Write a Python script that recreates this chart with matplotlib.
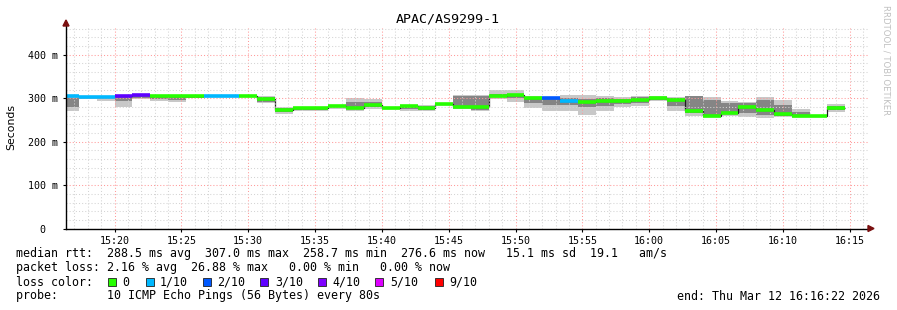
import matplotlib
matplotlib.use("Agg")
import matplotlib.pyplot as plt
import matplotlib.dates as mdates
from matplotlib.patches import Rectangle, Polygon
import numpy as np
import pandas as pd

# ---------------- data ----------------
title = "APAC/AS9299-1"
bin_start = "2026-03-12 15:16:00"
step_seconds = 80
view_start = "2026-03-12 15:16:22"
view_end = "2026-03-12 16:16:22"

median_ms = [304.4, 302.8, 302.8, 305.7, 306.5, 305.0, 305.0, 306.0, 306.0, 306.0,
             306.0, 299.0, 273.0, 278.0, 278.0, 283.0, 278.6, 285.5, 278.6, 282.0,
             277.5, 286.7, 279.8, 279.3, 305.0, 307.0, 300.5, 301.0, 294.7, 290.8,
             294.7, 294.7, 297.0, 299.8, 297.0, 270.6, 260.0, 266.0, 279.8, 274.0,
             263.7, 260.0, 258.7, 276.6]
loss_tenths = [1, 1, 1, 3, 3, 0, 0, 0, 1, 1,
               0, 0, 0, 0, 0, 0, 0, 0, 0, 0,
               0, 0, 0, 0, 0, 0, 0, 2, 1, 0,
               0, 0, 0, 0, 0, 0, 0, 0, 0, 0,
               0, 0, 0, 0]
smoke_lo = [271, 299, 294, 280, 298, 293, 291, 300, 304, 305,
            303, 288, 264, 271, 271, 276, 271, 275, 276, 271,
            270, 284, 275, 271, 299, 292, 277, 271, 271, 262,
            271, 280, 283, 294, 271, 260, 257, 260, 257, 254,
            256, 256, 256, 268]
smoke_hi = [303, 302, 302, 303, 305, 305, 303, 303, 306, 306,
            306, 306, 280, 278, 278, 283, 300, 298, 280, 282,
            284, 288, 307, 307, 319, 319, 305, 303, 307, 307,
            306, 303, 306, 305, 303, 306, 303, 294, 291, 302,
            296, 275, 260, 287]
core_lo = [280, 300, 300, 294, 300, 298, 297, 301, 305, 305,
           304, 292, 268, 274, 274, 279, 280, 280, 277, 276,
           274, 285, 277, 274, 302, 300, 290, 285, 285, 280,
           282, 287, 290, 296, 283, 265, 262, 264, 265, 262,
           260, 258, 257, 272]
core_hi = [300, 302, 302, 303, 304, 304, 302, 303, 306, 306,
           306, 302, 277, 278, 278, 283, 291, 292, 279, 281,
           281, 287, 306, 306, 310, 310, 302, 300, 300, 298,
           300, 299, 302, 303, 300, 304, 295, 290, 288, 295,
           285, 268, 259, 283]

loss_levels = [0, 1, 2, 3, 4, 5, 9]
loss_labels = ["0", "1/10", "2/10", "3/10", "4/10", "5/10", "9/10"]
loss_colors = ["#26ff00", "#00b8ff", "#0059ff", "#5e00ff", "#7e00ff", "#dd00ff", "#ff0000"]

y_ticks = [0, 100, 200, 300, 400]
y_ticklabels = ["0  ", "100 m", "200 m", "300 m", "400 m"]

stats_lines = [
    "median rtt:  288.5 ms avg  307.0 ms max  258.7 ms min  276.6 ms now   15.1 ms sd  19.1   am/s",
    "packet loss: 2.16 % avg  26.88 % max   0.00 % min   0.00 % now",
    "loss color:",
    "probe:       10 ICMP Echo Pings (56 Bytes) every 80s",
]
end_text = "end: Thu Mar 12 16:16:22 2026"
# --------------------------------------

W, H = 897, 310
mono = "DejaVu Sans Mono"

fig = plt.figure(figsize=(W / 100, H / 100), dpi=100)
fig.patch.set_facecolor("white")

x0, x1 = 66, 868
y0, y1 = 228.7, 26
ax = fig.add_axes([x0 / W, 1 - y0 / H, (x1 - x0) / W, (y0 - y1) / H])
ax.set_facecolor("white")

edges = mdates.date2num(pd.date_range(bin_start, periods=len(median_ms) + 1,
                                      freq=f"{step_seconds}s"))

ax.stairs(smoke_hi, edges, baseline=smoke_lo, fill=True, color="#c8c8c8",
          linewidth=0, zorder=1)
ax.stairs(core_hi, edges, baseline=core_lo, fill=True, color="#858585",
          linewidth=0, zorder=1.5)

# thin dark median step line
ax.stairs(median_ms, edges, baseline=None, color="#202020", linewidth=0.9, zorder=2)

cmap = dict(zip(loss_levels, loss_colors))
seg_colors = [cmap[l] for l in loss_tenths]
ax.hlines(median_ms, edges[:-1], edges[1:], colors=seg_colors, linewidth=2.6,
          zorder=3)

ax.set_xlim(mdates.date2num(pd.Timestamp(view_start)),
            mdates.date2num(pd.Timestamp(view_end)))
ax.set_ylim(0, (y0 - y1) / 0.435)

ax.xaxis.set_major_locator(mdates.MinuteLocator(byminute=range(0, 60, 5)))
ax.xaxis.set_minor_locator(mdates.MinuteLocator())
ax.xaxis.set_major_formatter(mdates.DateFormatter("%H:%M"))
ax.set_yticks(y_ticks)
ax.set_yticklabels(y_ticklabels)
ax.set_yticks(np.arange(0, 470, 20), minor=True)

for lab in ax.get_xticklabels() + ax.get_yticklabels():
    lab.set_fontfamily(mono)
    lab.set_fontsize(7.2)
ax.tick_params(axis="both", which="major", length=2, width=0.8, color="black")
ax.tick_params(axis="both", which="minor", length=0)
ax.tick_params(axis="x", pad=3)
ax.tick_params(axis="y", pad=4)

dash = (0, (1, 2))
ax.grid(True, which="minor", color="#d4d4d4", linestyle=dash, linewidth=0.75,
        zorder=4)
ax.grid(True, which="major", color="#ff9a9a", linestyle=dash, linewidth=0.75,
        zorder=4.1)
ax.set_axisbelow(False)

for s in ("top", "right"):
    ax.spines[s].set_visible(False)
for s in ("left", "bottom"):
    ax.spines[s].set_color("black")
    ax.spines[s].set_linewidth(1.0)
    ax.spines[s].set_zorder(5)

def fx(px):
    return px / W

def fy(py):
    return 1 - py / H

arrow_col = "#7a1010"
fig.patches.append(Polygon([[fx(868), fy(225.5)], [fx(868), fy(231.5)], [fx(874), fy(228.5)]],
                           closed=True, transform=fig.transFigure, color=arrow_col))
fig.patches.append(Polygon([[fx(63), fy(26)], [fx(69), fy(26)], [fx(66), fy(20)]],
                           closed=True, transform=fig.transFigure, color=arrow_col))

fig.text(fx(448), fy(19), title, family=mono, fontsize=9.6, ha="center",
         va="center", color="black")
fig.text(fx(11), fy(127), "Seconds", family="DejaVu Sans", fontsize=7.8,
         rotation=90, ha="center", va="center")
fig.text(fx(886), fy(5), "RRDTOOL / TOBI OETIKER", family="DejaVu Sans",
         fontsize=6.1, rotation=270, ha="center", va="top", color="#c0c0c0")

line_y = [254, 268, 282, 296]
for txt, yy in zip(stats_lines, line_y):
    fig.text(fx(16), fy(yy), txt, family=mono, fontsize=8.4, ha="left",
             va="center")
fig.text(fx(880), fy(296), end_text, family=mono, fontsize=8.4, ha="right",
         va="center")

box_x = [108, 146, 203, 260, 318, 375, 435]
text_x = [122, 160, 217, 275, 332, 390, 449]
for bx, tx, col, lab in zip(box_x, text_x, loss_colors, loss_labels):
    fig.patches.append(Rectangle((fx(bx), fy(286)), 8 / W, 8 / H,
                                 transform=fig.transFigure, facecolor=col,
                                 edgecolor="#202020", linewidth=0.6))
    fig.text(fx(tx), fy(282), lab, family=mono, fontsize=8.4, ha="left",
             va="center")

fig.savefig("out.png", dpi=100, facecolor="white")
